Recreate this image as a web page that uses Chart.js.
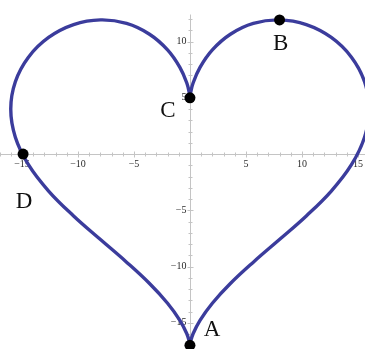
<!DOCTYPE html>
<html>
<head>
<meta charset="utf-8">
<script src="https://cdn.jsdelivr.net/npm/chart.js@4"></script>
<style>
  html, body { margin: 0; padding: 0; background: #fff; }
  #wrap { width: 365px; height: 349px; }
</style>
</head>
<body>
<div id="wrap"><canvas id="heart"></canvas></div>
<script>
// heart outline (C -> B -> A -> D -> C)
const heartX = [0, 0.04, 0.28, 0.90, 2.00, 3.61, 5.66, 7.99, 10.39, 12.62, 14.42, 15.59, 16.00,
  15.59, 14.42, 12.62, 10.39, 7.99, 5.66, 3.61, 2.00, 0.90, 0.28, 0.04, 0,
  -0.04, -0.28, -0.90, -2.00, -3.61, -5.66, -7.99, -10.39, -12.62, -14.42, -15.59, -16.00,
  -15.59, -14.42, -12.62, -10.39, -7.99, -5.66, -3.61, -2.00, -0.90, -0.28, -0.04, 0];
const heartY = [5.00, 5.35, 6.31, 7.71, 9.26, 10.65, 11.61, 11.92, 11.50, 10.36, 8.61, 6.43, 4.00,
  1.50, -0.95, -3.29, -5.50, -7.60, -9.61, -11.51, -13.26, -14.78, -15.97, -16.74, -17.00,
  -16.74, -15.97, -14.78, -13.26, -11.51, -9.61, -7.60, -5.50, -3.29, -0.95, 1.50, 4.00,
  6.43, 8.61, 10.36, 11.50, 11.92, 11.61, 10.65, 9.26, 7.71, 6.31, 5.35, 5.00];

// labelled points
const markNames = ['A', 'B', 'C', 'D'];
const markX = [0, 8, 0, -14.9];
const markY = [-17, 11.92, 5, 0];

// axis ticks
const xTickLabels = [-15, -10, -5, 5, 10, 15];
const yTickLabels = [-15, -10, -5, 5, 10];

const heartData = heartX.map((x, i) => ({ x: x, y: heartY[i] }));
const markData = markX.map((x, i) => ({ x: x, y: markY[i] }));

// where each letter sits relative to its dot (pixels)
const labelOffset = { A: [22, -15], B: [1, 24], C: [-22, 13], D: [1, 48] };

const axesPlugin = {
  id: 'mathAxes',
  beforeDatasetsDraw(chart) {
    const ctx = chart.ctx;
    const xs = chart.scales.x, ys = chart.scales.y;
    const ox = Math.round(xs.getPixelForValue(0)) + 0.5;
    const oy = Math.round(ys.getPixelForValue(0)) + 0.5;
    ctx.save();
    ctx.strokeStyle = '#c4c4c4';
    ctx.lineWidth = 1;
    ctx.beginPath();
    ctx.moveTo(0, oy); ctx.lineTo(chart.width, oy);
    ctx.moveTo(ox, ys.getPixelForValue(12.4)); ctx.lineTo(ox, chart.height);
    // minor and major ticks every unit
    for (let v = -17; v <= 15; v++) {
      if (v === 0) continue;
      const px = Math.round(xs.getPixelForValue(v)) + 0.5;
      const len = v % 5 === 0 ? 3 : 2;
      ctx.moveTo(px, oy - len); ctx.lineTo(px, oy + len);
    }
    for (let v = -17; v <= 12; v++) {
      if (v === 0) continue;
      const py = Math.round(ys.getPixelForValue(v)) + 0.5;
      const len = v % 5 === 0 ? 3 : 2;
      ctx.moveTo(ox - len, py); ctx.lineTo(ox + len, py);
    }
    ctx.stroke();

    ctx.fillStyle = '#2a2a2a';
    ctx.font = '10px "Liberation Serif", serif';
    ctx.textAlign = 'center';
    ctx.textBaseline = 'top';
    xTickLabels.forEach(v => {
      ctx.fillText(String(v).replace('-', '\u2212'), xs.getPixelForValue(v), oy + 5);
    });
    ctx.textAlign = 'right';
    ctx.textBaseline = 'middle';
    yTickLabels.forEach(v => {
      ctx.fillText(String(v).replace('-', '\u2212'), ox - 4, ys.getPixelForValue(v));
    });
    ctx.restore();
  },
  afterDatasetsDraw(chart) {
    const ctx = chart.ctx;
    const xs = chart.scales.x, ys = chart.scales.y;
    ctx.save();
    ctx.fillStyle = '#111';
    ctx.font = '23px "Liberation Serif", serif';
    ctx.textAlign = 'center';
    ctx.textBaseline = 'middle';
    markNames.forEach((name, i) => {
      const off = labelOffset[name];
      ctx.fillText(name, xs.getPixelForValue(markX[i]) + off[0], ys.getPixelForValue(markY[i]) + off[1]);
    });
    ctx.restore();
  }
};

new Chart(document.getElementById('heart'), {
  type: 'scatter',
  data: {
    datasets: [
      {
        data: heartData,
        showLine: true,
        borderColor: '#3b3c9c',
        borderWidth: 3.4,
        pointRadius: 0,
        tension: 0.4,
        fill: false,
        order: 2
      },
      {
        data: markData,
        pointRadius: 5.5,
        pointBackgroundColor: '#000',
        pointBorderColor: '#000',
        pointBorderWidth: 0,
        order: 1,
        clip: false
      }
    ]
  },
  options: {
    responsive: true,
    maintainAspectRatio: false,
    animation: false,
    layout: { padding: 0, autoPadding: false },
    plugins: { legend: { display: false }, tooltip: { enabled: false } },
    scales: {
      x: { type: 'linear', min: -16.96, max: 15.63, display: false },
      y: { type: 'linear', min: -17.33, max: 13.69, display: false }
    }
  },
  plugins: [axesPlugin]
});
</script>
</body>
</html>
